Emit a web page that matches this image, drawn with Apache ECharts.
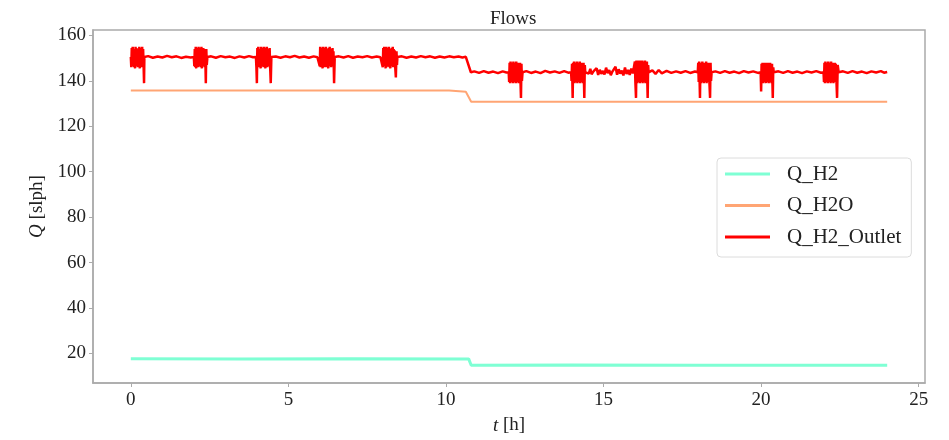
<!DOCTYPE html>
<html>
<head>
<meta charset="utf-8">
<script src="https://cdn.jsdelivr.net/npm/echarts@6/dist/echarts.min.js"></script>
<style>html,body{margin:0;padding:0;background:#fff}#c{width:949px;height:440px}</style>
</head>
<body>
<div id="c"></div>
<script>
var xTicks = [0, 5, 10, 15, 20, 25];
var yTicks = [20, 40, 60, 80, 100, 120, 140, 160];
var seriesNames = ['Q_H2', 'Q_H2O', 'Q_H2_Outlet'];

var qH2 = [[0,17.7],[3.4,17.6],[7.0,17.7],[10.72,17.6],[10.8,14.8],[14.0,14.9],[18.0,14.8],[24.0,14.8]];

var qH2O = [[0,135.8],[5.0,135.8],[10.1,135.8],[10.63,135.2],[10.8,130.8],[15.0,130.8],[24.0,130.8]];

var qOutlet = [
[0,150.5],[0.015,146],[0.03,154.5],[0.045,146.5],[0.06,155],[0.075,147],[0.09,153.5],[0.105,146],[0.12,154],[0.135,145.5],[0.15,155],[0.165,146.5],[0.18,154.5],[0.195,147],[0.21,153],[0.225,146],[0.24,154],[0.255,146.5],[0.27,155],[0.285,145.5],[0.3,153.5],[0.315,147],[0.33,154.5],[0.345,146],[0.36,155],[0.375,146.5],[0.39,154],[0.405,147],[0.42,139],[0.43,150.5],
[0.55,150.9],[0.7,150.2],[0.85,150.7],[1.0,150.3],[1.15,151.0],[1.3,150.4],[1.45,150.8],[1.6,150.1],[1.75,150.6],[1.9,150.3],
[2.0,150.5],[2.015,146.5],[2.03,154],[2.045,146],[2.06,155],[2.075,145.5],[2.09,154.5],[2.105,147],[2.12,153.5],[2.135,146],[2.15,155],[2.165,146.5],[2.18,154],[2.195,147],[2.21,154.5],[2.225,146],[2.24,155],[2.255,145.5],[2.27,153.5],[2.285,146.5],[2.3,154.5],[2.315,147],[2.33,154],[2.345,146],[2.36,153],[2.38,139],[2.395,154],[2.41,147],[2.43,150.5],
[2.55,150.8],[2.7,150.2],[2.85,150.9],[3.0,150.4],[3.15,150.7],[3.3,150.1],[3.45,150.8],[3.6,150.3],[3.75,150.9],[3.88,150.4],
[3.97,150.5],[3.985,146],[4.0,139],[4.015,154.5],[4.03,146.5],[4.045,155],[4.06,146],[4.075,154],[4.09,147],[4.105,153.5],[4.12,145.5],[4.135,155],[4.15,146.5],[4.165,154.5],[4.18,147],[4.195,154],[4.21,146],[4.225,155],[4.24,146.5],[4.255,153.5],[4.27,145.5],[4.285,154.5],[4.3,147],[4.315,155],[4.33,146],[4.345,154],[4.36,146.5],[4.375,153.5],[4.39,147],[4.405,154.5],[4.42,146.5],[4.44,139],[4.46,150.5],
[4.6,150.7],[4.75,150.2],[4.9,150.8],[5.05,150.4],[5.2,151.0],[5.35,150.3],[5.5,150.7],[5.65,150.2],[5.8,150.8],[5.92,150.4],
[5.98,150.5],[5.995,146.5],[6.01,155],[6.025,146],[6.04,154],[6.055,147],[6.07,154.5],[6.085,145.5],[6.1,155],[6.115,146.5],[6.13,153.5],[6.145,146],[6.16,154.5],[6.175,147],[6.19,155],[6.205,146],[6.22,154],[6.235,146.5],[6.25,153],[6.265,145.5],[6.28,154.5],[6.295,147],[6.31,155],[6.325,146.5],[6.34,154],[6.355,146],[6.37,153.5],[6.385,147],[6.4,154.5],[6.415,146.5],[6.43,153],[6.45,139],[6.47,150.5],
[6.6,150.8],[6.75,150.3],[6.9,150.9],[7.05,150.2],[7.2,150.7],[7.35,150.4],[7.5,150.9],[7.65,150.3],[7.8,150.7],[7.92,150.4],
[7.98,150.5],[7.995,146],[8.01,154.5],[8.025,146.5],[8.04,155],[8.055,147],[8.07,154],[8.085,145.5],[8.1,155],[8.115,146],[8.13,153.5],[8.145,146.5],[8.16,154.5],[8.175,147],[8.19,155],[8.205,146],[8.22,154],[8.235,145.5],[8.25,153.5],[8.265,146.5],[8.28,154.5],[8.295,147],[8.31,155],[8.325,146],[8.34,154],[8.355,146.5],[8.37,153.5],[8.385,147],[8.41,141.5],[8.43,153],[8.445,147],[8.46,150.5],
[8.6,150.8],[8.75,150.2],[8.9,150.7],[9.05,150.3],[9.2,150.9],[9.35,150.4],[9.5,150.8],[9.65,150.2],[9.8,150.7],[9.95,150.3],[10.1,150.8],[10.25,150.4],[10.4,150.7],[10.52,150.3],[10.63,150.6],
[10.79,143.8],
[10.9,144.2],[11.05,143.5],[11.2,144.3],[11.35,143.6],[11.5,144.1],[11.65,143.4],[11.8,144.2],[11.92,143.7],
[11.99,143.8],[12.005,139.5],[12.02,148],[12.035,139],[12.05,148.5],[12.065,140],[12.08,147.5],[12.095,139.5],[12.11,148],[12.125,139],[12.14,148.5],[12.155,140],[12.17,147],[12.185,139.5],[12.2,148],[12.215,139],[12.23,148.5],[12.245,140],[12.26,147.5],[12.275,139.5],[12.29,148],[12.305,139],[12.32,147.5],[12.335,140],[12.35,148],[12.365,139.5],[12.38,132.5],[12.395,147.5],[12.41,140],[12.43,143.8],
[12.55,144.3],[12.7,143.5],[12.85,144.1],[13.0,143.4],[13.15,144.4],[13.3,143.7],[13.45,144.2],[13.6,143.5],[13.75,144.3],[13.88,143.6],
[13.97,143.8],[13.985,140],[14.0,147.5],[14.02,132.5],[14.035,148],[14.05,139.5],[14.065,148.5],[14.08,139],[14.095,147.5],[14.11,140],[14.125,148],[14.14,139.5],[14.155,148.5],[14.17,139],[14.185,147],[14.2,140],[14.215,148],[14.23,139.5],[14.245,148.5],[14.26,139],[14.275,147.5],[14.29,140],[14.305,148],[14.32,139.5],[14.335,147.5],[14.35,139],[14.365,148],[14.39,132.5],[14.405,147],[14.42,143.8],
[14.48,144.6],[14.53,143.2],[14.58,145.3],[14.62,142.9],[14.68,144.2],[14.73,143.5],[14.78,145.6],[14.83,142.6],[14.88,144.9],[14.93,143.1],[14.98,144.4],[15.03,142.8],[15.08,145.8],[15.13,143.4],[15.18,144.7],[15.23,142.5],[15.28,144.1],[15.33,143.6],[15.38,146.2],[15.43,142.7],[15.48,145.1],[15.53,143.2],[15.58,144.5],[15.63,142.4],[15.68,145.9],[15.73,143.0],[15.78,144.8],[15.83,142.6],[15.88,145.4],[15.93,143.3],
[15.98,143.8],[15.995,148.5],[16.01,139.5],[16.03,132.5],[16.045,149],[16.06,139],[16.075,148.5],[16.09,140],[16.105,149],[16.12,139.5],[16.135,148],[16.15,139],[16.165,149],[16.18,140],[16.195,148.5],[16.21,139.5],[16.225,149],[16.24,139],[16.255,148],[16.27,140],[16.285,148.5],[16.3,139.5],[16.315,149],[16.33,139],[16.345,148],[16.36,140],[16.375,148.5],[16.4,132.5],[16.415,147],[16.43,143.8],
[16.55,144.6],[16.65,143.1],[16.75,144.8],[16.85,143.3],[17.0,144.4],[17.15,143.5],[17.3,144.2],[17.45,143.6],[17.6,144.3],[17.75,143.5],[17.9,144.1],
[17.99,143.8],[18.005,148],[18.02,139.5],[18.035,148.5],[18.06,132.5],[18.075,148],[18.09,139],[18.105,147.5],[18.12,140],[18.135,148.5],[18.15,139.5],[18.165,148],[18.18,139],[18.195,147.5],[18.21,140],[18.225,148],[18.24,139.5],[18.255,148.5],[18.27,139],[18.285,147.5],[18.3,140],[18.315,148],[18.33,139.5],[18.345,147.5],[18.36,139],[18.38,132.5],[18.395,148],[18.41,140],[18.43,143.8],
[18.55,144.2],[18.7,143.5],[18.85,144.3],[19.0,143.6],[19.15,144.1],[19.3,143.4],[19.45,144.3],[19.6,143.7],[19.75,144.2],[19.9,143.5],
[19.985,143.8],[20.0,135.3],[20.015,147.5],[20.03,139.5],[20.045,148],[20.06,139],[20.075,147.5],[20.09,140],[20.105,148],[20.12,139.5],[20.135,147],[20.15,139],[20.165,148],[20.18,140],[20.195,147.5],[20.21,139.5],[20.225,148],[20.24,139],[20.255,147.5],[20.27,140],[20.285,148],[20.3,139.5],[20.315,147],[20.33,139],[20.345,147.5],[20.37,132.5],[20.385,146],[20.4,143.8],
[20.55,144.2],[20.7,143.5],[20.85,144.3],[21.0,143.6],[21.15,144.1],[21.3,143.4],[21.45,144.2],[21.6,143.7],[21.75,144.3],[21.9,143.6],
[21.98,143.8],[21.995,139.5],[22.01,148],[22.025,139],[22.04,148.5],[22.055,140],[22.07,147.5],[22.085,139.5],[22.1,148],[22.115,139],[22.13,148.5],[22.145,140],[22.16,147.5],[22.175,139.5],[22.19,148],[22.205,139],[22.22,148.5],[22.235,140],[22.25,147.5],[22.265,139.5],[22.28,148],[22.295,139],[22.31,147.5],[22.325,140],[22.34,148],[22.355,139.5],[22.37,147.5],[22.39,140],[22.41,132.5],[22.43,147],[22.46,143.8],
[22.6,144.2],[22.75,143.5],[22.9,144.3],[23.05,143.6],[23.2,144.1],[23.35,143.4],[23.5,144.2],[23.65,143.7],[23.8,144.3],[23.9,143.6],[24.0,143.9]
];

var FONT = '"Liberation Serif", "DejaVu Serif", serif';
var AX = '#ababab';
var chart = echarts.init(document.getElementById('c'), null, {renderer: 'canvas'});
chart.setOption({
  animation: false,
  backgroundColor: '#fff',
  title: {
    text: 'Flows', left: 485, top: 5,
    textStyle: {fontFamily: FONT, fontSize: 19, fontWeight: 'normal', color: '#222'}
  },
  legend: {
    orient: 'vertical', left: 717, top: 158,
    data: seriesNames,
    icon: 'rect', itemWidth: 45, itemHeight: 3, itemGap: 9.5,
    backgroundColor: '#fff', borderColor: '#dcdcdc', borderWidth: 1, borderRadius: 4,
    padding: [5, 10, 9, 8],
    textStyle: {fontFamily: FONT, fontSize: 21, color: '#222', lineHeight: 22, padding: [0, 0, 0, 12]}
  },
  grid: {left: 93, right: 24, top: 30, bottom: 54, show: true, borderColor: AX, borderWidth: 1.5, backgroundColor: 'transparent'},
  xAxis: {
    type: 'value', min: -1.2, max: 25.2,
    name: '{i|t} [h]', nameLocation: 'middle', nameGap: 33,
    nameTextStyle: {fontFamily: FONT, fontSize: 19, color: '#222',
      rich: {i: {fontStyle: 'italic', fontFamily: FONT, fontSize: 19, color: '#222'}}},
    axisLine: {show: true, onZero: false, lineStyle: {color: AX, width: 1.5}},
    axisTick: {show: true, inside: false, length: 4, customValues: xTicks, lineStyle: {color: AX, width: 1}},
    axisLabel: {customValues: xTicks, fontFamily: FONT, fontSize: 19, color: '#222', margin: 8},
    splitLine: {show: false}
  },
  yAxis: {
    type: 'value', min: 7, max: 162.4,
    name: '{i|Q} [slph]', nameLocation: 'middle', nameGap: 44,
    nameTextStyle: {fontFamily: FONT, fontSize: 19, color: '#222',
      rich: {i: {fontStyle: 'italic', fontFamily: FONT, fontSize: 19, color: '#222'}}},
    axisLine: {show: true, onZero: false, lineStyle: {color: AX, width: 1.5}},
    axisTick: {show: true, inside: false, length: 4, customValues: yTicks, lineStyle: {color: AX, width: 1}},
    axisLabel: {customValues: yTicks, fontFamily: FONT, fontSize: 19, color: '#222', margin: 7},
    splitLine: {show: false}
  },
  series: [
    {name: seriesNames[0], type: 'line', data: qH2, showSymbol: false, color: '#7fffd4', lineStyle: {width: 3}},
    {name: seriesNames[1], type: 'line', data: qH2O, showSymbol: false, color: '#ffa574', lineStyle: {width: 2}},
    {name: seriesNames[2], type: 'line', data: qOutlet, showSymbol: false, color: '#ff0000', lineStyle: {width: 2.5}}
  ]
});
</script>
</body>
</html>
